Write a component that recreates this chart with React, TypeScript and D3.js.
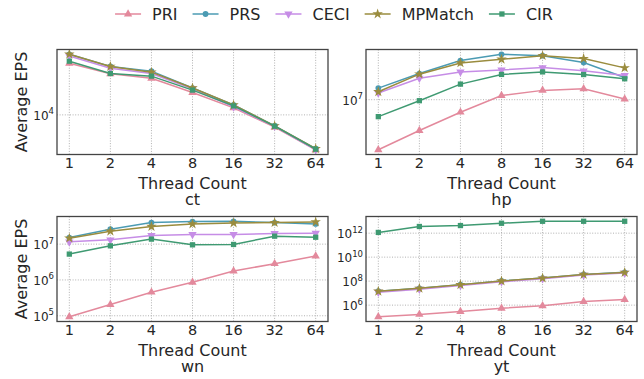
import * as d3 from 'd3';
import React, { useEffect, useRef } from 'react';

const threads = [1, 2, 4, 8, 16, 32, 64];
const seriesNames = ['PRI', 'PRS', 'CECI', 'MPMatch', 'CIR'];
const seriesColors = ['#e3899c', '#4b9bb3', '#c68de6', '#9a8c3e', '#3f9a72'];

// ct
const ctPRI = [49300, 35600, 30900, 19950, 12400, 6850, 3410];
const ctPRS = [65000, 44600, 38600, 22900, 13600, 7130, 3520];
const ctCECI = [61800, 42300, 35900, 22400, 12800, 7030, 3410];
const ctMPMatch = [65000, 44600, 37400, 22900, 13600, 7130, 3520];
const ctCIR = [52500, 35900, 33100, 21500, 13200, 7060, 3470];

// hp
const hpPRI = [1.91e6, 3.61e6, 6.61e6, 1.148e7, 1.362e7, 1.436e7, 1.023e7];
const hpPRS = [1.469e7, 2.38e7, 3.65e7, 4.5e7, 4.3e7, 3.42e7, 2.09e7];
const hpCECI = [1.247e7, 2.04e7, 2.51e7, 2.68e7, 2.9e7, 2.6e7, 2.23e7];
const hpMPMatch = [1.3e7, 2.33e7, 3.38e7, 3.81e7, 4.3e7, 3.9e7, 2.87e7];
const hpCIR = [5.71e6, 9.68e6, 1.676e7, 2.31e7, 2.51e7, 2.3e7, 2.0e7];

// wn
const wnPRI = [9.4e4, 2.06e5, 4.55e5, 8.63e5, 1.78e6, 2.84e6, 4.64e6];
const wnPRS = [1.53e7, 2.61e7, 4.0e7, 4.28e7, 4.35e7, 4.0e7, 3.66e7];
const wnCECI = [1.16e7, 1.32e7, 1.74e7, 1.86e7, 1.86e7, 1.98e7, 2.02e7];
const wnMPMatch = [1.47e7, 2.3e7, 3.1e7, 3.66e7, 3.9e7, 4.0e7, 4.16e7];
const wnCIR = [5.27e6, 8.97e6, 1.38e7, 9.57e6, 9.8e6, 1.67e7, 1.56e7];

// yt
const ytPRI = [1.08e5, 1.67e5, 2.96e5, 5.5e5, 8.7e5, 1.99e6, 2.9e6];
const ytPRS = [1.45e7, 2.55e7, 5.1e7, 1.03e8, 1.82e8, 3.65e8, 5.4e8];
const ytCECI = [1.2e7, 2.15e7, 4.3e7, 8.8e7, 1.58e8, 3.2e8, 4.7e8];
const ytMPMatch = [1.42e7, 2.5e7, 5.0e7, 1.02e8, 1.8e8, 3.58e8, 5.3e8];
const ytCIR = [1.15e12, 3.6e12, 4.3e12, 6.7e12, 9.8e12, 9.8e12, 9.8e12];

const panels = [
  { name: 'ct', series: [ctPRI, ctPRS, ctCECI, ctMPMatch, ctCIR], yTicks: [1e4] },
  { name: 'hp', series: [hpPRI, hpPRS, hpCECI, hpMPMatch, hpCIR], yTicks: [1e7] },
  { name: 'wn', series: [wnPRI, wnPRS, wnCECI, wnMPMatch, wnCIR], yTicks: [1e5, 1e6, 1e7] },
  { name: 'yt', series: [ytPRI, ytPRS, ytCECI, ytMPMatch, ytCIR], yTicks: [1e6, 1e8, 1e10, 1e12] },
];

// axes boxes (left, right, top, bottom)
const boxes = [
  { x0: 57, x1: 328, y0: 49.5, y1: 154.5 },
  { x0: 366, x1: 637, y0: 49.5, y1: 154.5 },
  { x0: 57, x1: 328, y0: 216.5, y1: 321.5 },
  { x0: 366, x1: 637, y0: 216.5, y1: 321.5 },
];

const FONT = 'DejaVu Sans, sans-serif';
const TEXT = '#262626';

const symbolFor = (i) => {
  if (i === 0) return { type: d3.symbolTriangle, size: 30, rot: 0 };
  if (i === 1) return { type: d3.symbolCircle, size: 26, rot: 0 };
  if (i === 2) return { type: d3.symbolTriangle, size: 30, rot: 180 };
  if (i === 3) return { type: d3.symbolStar, size: 34, rot: 0 };
  return { type: d3.symbolSquare, size: 28, rot: 0 };
};

export default function App() {
  const svgRef = useRef(null);
  const width = 644;
  const height = 379;

  useEffect(() => {
    const svg = d3.select(svgRef.current);
    svg.selectAll('*').remove();

    panels.forEach((p, pi) => {
      const b = boxes[pi];
      const g = svg.append('g');

      // x: log2 with 5% margins like matplotlib
      const lx = [Math.log2(1), Math.log2(64)];
      const mx = (lx[1] - lx[0]) * 0.05;
      const x = d3
        .scaleLog()
        .base(2)
        .domain([Math.pow(2, lx[0] - mx), Math.pow(2, lx[1] + mx)])
        .range([b.x0, b.x1]);

      const all = p.series.flat();
      const lo = Math.log10(d3.min(all));
      const hi = Math.log10(d3.max(all));
      const my = (hi - lo) * 0.05;
      const y = d3
        .scaleLog()
        .domain([Math.pow(10, lo - my), Math.pow(10, hi + my)])
        .range([b.y1, b.y0]);

      // grid
      g.selectAll('.vgrid')
        .data(threads)
        .enter()
        .append('line')
        .attr('x1', (d) => x(d))
        .attr('x2', (d) => x(d))
        .attr('y1', b.y0)
        .attr('y2', b.y1)
        .attr('stroke', '#a8a8a8')
        .attr('stroke-width', 0.9)
        .attr('stroke-dasharray', '1,1.6');
      g.selectAll('.hgrid')
        .data(p.yTicks)
        .enter()
        .append('line')
        .attr('x1', b.x0)
        .attr('x2', b.x1)
        .attr('y1', (d) => y(d))
        .attr('y2', (d) => y(d))
        .attr('stroke', '#a8a8a8')
        .attr('stroke-width', 0.9)
        .attr('stroke-dasharray', '1,1.6');

      // lines + markers
      const line = d3
        .line()
        .x((d, i) => x(threads[i]))
        .y((d) => y(d));
      p.series.forEach((vals, si) => {
        g.append('path')
          .attr('d', line(vals))
          .attr('fill', 'none')
          .attr('stroke', seriesColors[si])
          .attr('stroke-width', 1.5);
        const s = symbolFor(si);
        g.selectAll(null)
          .data(vals)
          .enter()
          .append('path')
          .attr('d', d3.symbol().type(s.type).size(s.size)())
          .attr('transform', (d, i) => `translate(${x(threads[i])},${y(d)}) rotate(${s.rot})`)
          .attr('fill', seriesColors[si]);
      });

      // frame
      g.append('rect')
        .attr('x', b.x0)
        .attr('y', b.y0)
        .attr('width', b.x1 - b.x0)
        .attr('height', b.y1 - b.y0)
        .attr('fill', 'none')
        .attr('stroke', '#444')
        .attr('stroke-width', 1.3);

      // x tick labels
      g.selectAll('.xt')
        .data(threads)
        .enter()
        .append('text')
        .attr('x', (d) => x(d))
        .attr('y', b.y1 + 13.8)
        .attr('text-anchor', 'middle')
        .attr('font-family', FONT)
        .attr('font-size', 14.5)
        .attr('fill', TEXT)
        .text((d) => d);

      // y tick labels
      p.yTicks.forEach((t) => {
        const txt = g
          .append('text')
          .attr('x', b.x0 - 3)
          .attr('y', y(t) + 5)
          .attr('text-anchor', 'end')
          .attr('font-family', FONT)
          .attr('font-size', 12)
          .attr('fill', TEXT);
        txt.append('tspan').text('10');
        txt.append('tspan')
          .attr('dy', -5.5)
          .attr('font-size', 8.5)
          .text(String(Math.round(Math.log10(t))));
      });

      // x label + title
      const cx = (b.x0 + b.x1) / 2;
      g.append('text')
        .attr('x', cx)
        .attr('y', b.y1 + 34)
        .attr('text-anchor', 'middle')
        .attr('font-family', FONT)
        .attr('font-size', 16)
        .attr('fill', TEXT)
        .text('Thread Count');
      g.append('text')
        .attr('x', cx)
        .attr('y', b.y1 + 50.5)
        .attr('text-anchor', 'middle')
        .attr('font-family', FONT)
        .attr('font-size', 16)
        .attr('fill', TEXT)
        .text(p.name);

      if (pi % 2 === 0) {
        g.append('text')
          .attr('transform', `translate(27,${(b.y0 + b.y1) / 2}) rotate(-90)`)
          .attr('text-anchor', 'middle')
          .attr('font-family', FONT)
          .attr('font-size', 16)
          .attr('fill', TEXT)
          .text('Average EPS');
      }
    });

    // Legend
    const leg = svg.append('g');
    let cur = 0;
    const items = [];
    seriesNames.forEach((n, si) => {
      const it = leg.append('g').attr('transform', `translate(${cur},0)`);
      it.append('line')
        .attr('x1', 0)
        .attr('x2', 26)
        .attr('y1', 14)
        .attr('y2', 14)
        .attr('stroke', seriesColors[si])
        .attr('stroke-width', 1.5);
      const s = symbolFor(si);
      it.append('path')
        .attr('d', d3.symbol().type(s.type).size(s.size)())
        .attr('transform', `translate(13,14) rotate(${s.rot})`)
        .attr('fill', seriesColors[si]);
      const t = it
        .append('text')
        .attr('x', 37)
        .attr('y', 20)
        .attr('font-family', FONT)
        .attr('font-size', 16)
        .attr('fill', TEXT)
        .text(n);
      const w = t.node().getComputedTextLength();
      cur += 37 + w + 15;
      items.push(it);
    });
    const total = cur - 15;
    leg.attr('transform', `translate(${334 - total / 2},0)`);
  }, []);

  return (
    <svg
      ref={svgRef}
      width={width}
      height={height}
      style={{ position: 'absolute', left: 0, top: 0, background: '#fff' }}
    ></svg>
  );
}
